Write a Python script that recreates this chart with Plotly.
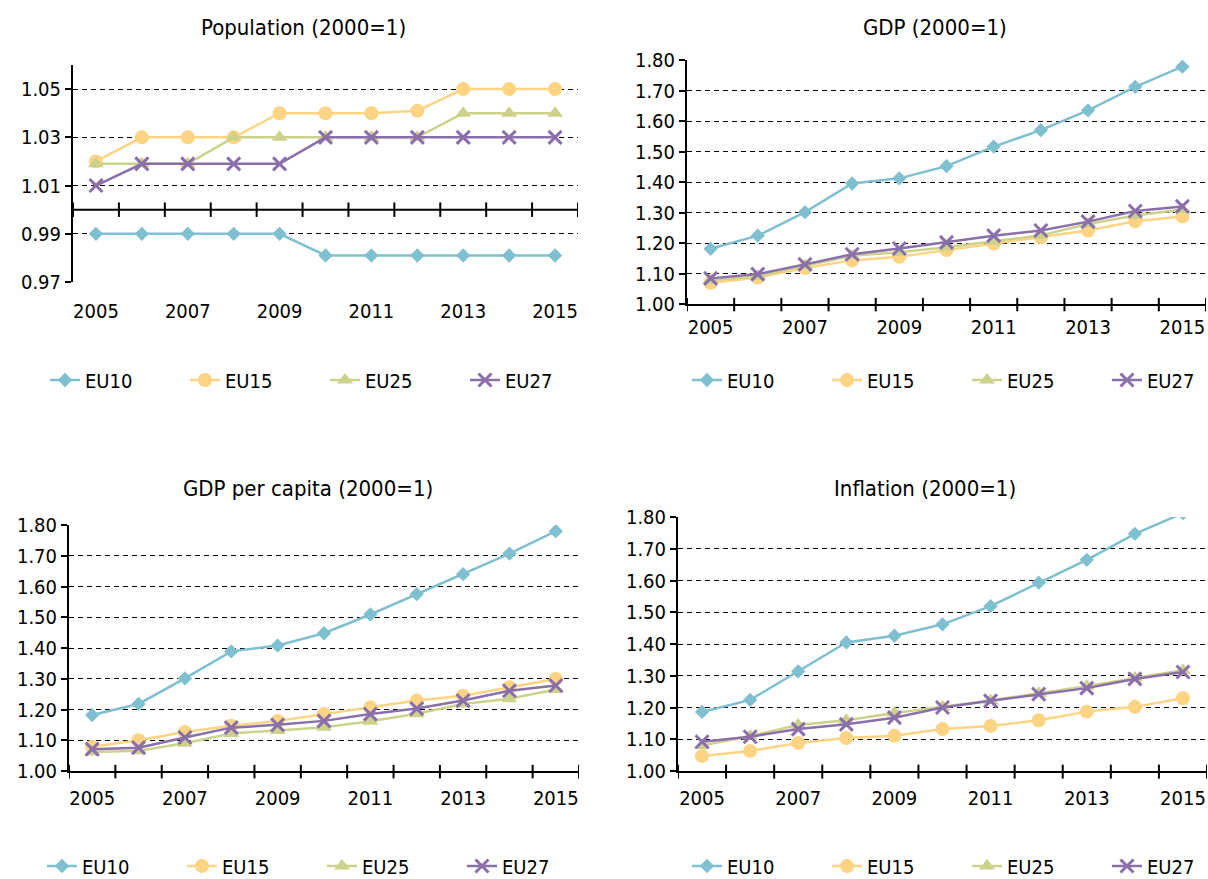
import plotly.graph_objects as go

# ---------------- data ----------------
years = [2005, 2006, 2007, 2008, 2009, 2010, 2011, 2012, 2013, 2014, 2015]
label_years = [2005, 2007, 2009, 2011, 2013, 2015]
series_names = ["EU10", "EU15", "EU25", "EU27"]

pop_eu10 = [0.990, 0.990, 0.990, 0.990, 0.990, 0.981, 0.981, 0.981, 0.981, 0.981, 0.981]
pop_eu15 = [1.020, 1.030, 1.030, 1.030, 1.040, 1.040, 1.040, 1.041, 1.050, 1.050, 1.050]
pop_eu25 = [1.019, 1.019, 1.019, 1.030, 1.030, 1.030, 1.030, 1.030, 1.040, 1.040, 1.040]
pop_eu27 = [1.010, 1.019, 1.019, 1.019, 1.019, 1.030, 1.030, 1.030, 1.030, 1.030, 1.030]

gdp_eu10 = [1.181, 1.224, 1.301, 1.395, 1.412, 1.452, 1.516, 1.570, 1.635, 1.712, 1.778]
gdp_eu15 = [1.069, 1.087, 1.118, 1.143, 1.155, 1.177, 1.198, 1.219, 1.241, 1.271, 1.287]
gdp_eu25 = [1.078, 1.090, 1.125, 1.158, 1.170, 1.186, 1.206, 1.225, 1.262, 1.290, 1.310]
gdp_eu27 = [1.084, 1.098, 1.130, 1.163, 1.182, 1.202, 1.224, 1.241, 1.270, 1.305, 1.320]

gdppc_eu10 = [1.182, 1.218, 1.301, 1.389, 1.408, 1.448, 1.509, 1.575, 1.640, 1.707, 1.780]
gdppc_eu15 = [1.079, 1.100, 1.127, 1.147, 1.163, 1.185, 1.207, 1.229, 1.245, 1.272, 1.299]
gdppc_eu25 = [1.062, 1.066, 1.090, 1.122, 1.132, 1.142, 1.162, 1.186, 1.218, 1.235, 1.265]
gdppc_eu27 = [1.071, 1.076, 1.109, 1.141, 1.150, 1.163, 1.185, 1.203, 1.229, 1.261, 1.278]

infl_eu10 = [1.186, 1.224, 1.314, 1.405, 1.426, 1.462, 1.519, 1.593, 1.665, 1.747, 1.812]
infl_eu15 = [1.047, 1.063, 1.088, 1.104, 1.111, 1.132, 1.142, 1.160, 1.187, 1.202, 1.229]
infl_eu25 = [1.080, 1.110, 1.145, 1.160, 1.183, 1.202, 1.222, 1.245, 1.267, 1.293, 1.317]
infl_eu27 = [1.092, 1.108, 1.132, 1.147, 1.168, 1.200, 1.221, 1.242, 1.261, 1.290, 1.312]

pop_ticks = [0.97, 0.99, 1.01, 1.03, 1.05]
panel_titles = ["Population (2000=1)", "GDP (2000=1)", "GDP per capita (2000=1)", "Inflation (2000=1)"]

panels = [
    [pop_eu10, pop_eu15, pop_eu25, pop_eu27],
    [gdp_eu10, gdp_eu15, gdp_eu25, gdp_eu27],
    [gdppc_eu10, gdppc_eu15, gdppc_eu25, gdppc_eu27],
    [infl_eu10, infl_eu15, infl_eu25, infl_eu27],
]

# ---------------- styling ----------------
W, H = 1208, 879
FONT = "Liberation Sans Narrow, Arial Narrow, DejaVu Sans Condensed, sans-serif"
colors = ["#7EBFD0", "#FDD484", "#CDD28B", "#8A6FAB"]
symbols = ["diamond", "circle", "triangle-up", "x-thin"]
msizes = [11, 14, 14, 13]

def px_x(p):
    return p / W

def px_y(p):
    return 1 - p / H

# plot-area pixel boxes: left, right, top, bottom
boxes = [
    (73, 578, 65, 282),
    (687, 1206, 60, 304),
    (69, 579, 525, 771),
    (678, 1207, 517, 771),
]
title_pos = [(303, 28), (935, 28), (308, 489), (925, 489)]
legend_pos = [(45, 380), (687, 380), (42, 866), (687, 866)]
legend_entry = [95, 95, 95, 95]
label_standoff = [15, 4, 8, 8]

fig = go.Figure()

for p, data in enumerate(panels):
    xa = "x" if p == 0 else f"x{p+1}"
    ya = "y" if p == 0 else f"y{p+1}"
    lg = "legend" if p == 0 else f"legend{p+1}"
    for s, vals in enumerate(data):
        marker = dict(symbol=symbols[s], size=msizes[s], color=colors[s])
        if symbols[s] == "x-thin":
            marker["line"] = dict(color=colors[s], width=3)
        else:
            marker["line"] = dict(width=0)
        fig.add_trace(go.Scatter(
            x=years, y=vals, name=series_names[s], mode="lines+markers",
            line=dict(color=colors[s], width=2.5), marker=marker,
            xaxis=xa, yaxis=ya, legend=lg, showlegend=True,
        ))

layout = dict(
    template="none",
    width=W, height=H, margin=dict(l=0, r=0, t=0, b=0, autoexpand=False),
    paper_bgcolor="white", plot_bgcolor="white",
    font=dict(family=FONT, size=20, color="black"),
    showlegend=True,
)

shapes = []
annotations = []
for p, (l, r, t, b) in enumerate(boxes):
    xk = "xaxis" if p == 0 else f"xaxis{p+1}"
    yk = "yaxis" if p == 0 else f"yaxis{p+1}"
    xa = "x" if p == 0 else f"x{p+1}"
    ya = "y" if p == 0 else f"y{p+1}"
    layout[xk] = dict(
        domain=[px_x(l), px_x(r)], anchor=ya, range=[years[0] - 0.5, years[-1] + 0.5],
        tickvals=label_years, ticktext=[str(v) for v in label_years],
        ticks="", showgrid=False, zeroline=False, automargin=False,
        showline=(p != 0), linecolor="black", linewidth=2,
        ticklabelstandoff=label_standoff[p],
        tickfont=dict(size=20, family=FONT),
        fixedrange=True,
    )
    ydef = dict(
        domain=[px_y(b), px_y(t)], anchor=xa, automargin=False,
        showline=True, linecolor="black", linewidth=2,
        ticks="outside", ticklen=6, tickwidth=2, tickcolor="black",
        showgrid=True, gridcolor="black", gridwidth=1, griddash="5px,4px",
        zeroline=False, tickformat=".2f", tickfont=dict(size=20, family=FONT),
        fixedrange=True,
    )
    if p == 0:
        ydef.update(range=[0.97, 1.06], tickvals=pop_ticks)
    else:
        ydef.update(range=[1.0, 1.8], tick0=1.0, dtick=0.1)
    layout[yk] = ydef

    # category boundary tick marks on the x axis line
    bounds = [y - 0.5 for y in years] + [years[-1] + 0.5]
    for bx in bounds:
        if p == 0:
            shapes.append(dict(type="line", xref=xa, yref=ya, x0=bx, x1=bx,
                               y0=1.0 - 0.003, y1=1.0 + 0.003,
                               line=dict(color="black", width=2)))
        else:
            shapes.append(dict(type="line", xref=xa, yref=f"{ya} domain", x0=bx, x1=bx,
                               y0=-0.03, y1=0.025, line=dict(color="black", width=2)))
    if p == 0:
        shapes.append(dict(type="line", xref=f"{xa} domain", yref=ya, x0=0, x1=1,
                           y0=1.0, y1=1.0, line=dict(color="black", width=2)))

    tx, ty = title_pos[p]
    annotations.append(dict(text=panel_titles[p], x=px_x(tx), y=px_y(ty), xref="paper", yref="paper",
                            showarrow=False, xanchor="center", yanchor="middle",
                            font=dict(size=22, family=FONT, color="black")))

    lk = "legend" if p == 0 else f"legend{p+1}"
    lx, ly = legend_pos[p]
    layout[lk] = dict(orientation="h", x=px_x(lx), y=px_y(ly),
                      xanchor="left", yanchor="middle",
                      font=dict(size=20, family=FONT, color="black"), entrywidth=legend_entry[p],
                      entrywidthmode="pixels", bgcolor="rgba(0,0,0,0)", borderwidth=0,
                      itemclick=False, itemdoubleclick=False)

layout["shapes"] = shapes
layout["annotations"] = annotations
fig.update_layout(**layout)

fig.write_html("out.html", config={"displayModeBar": False},
               post_script="document.body.style.margin='0px';")
